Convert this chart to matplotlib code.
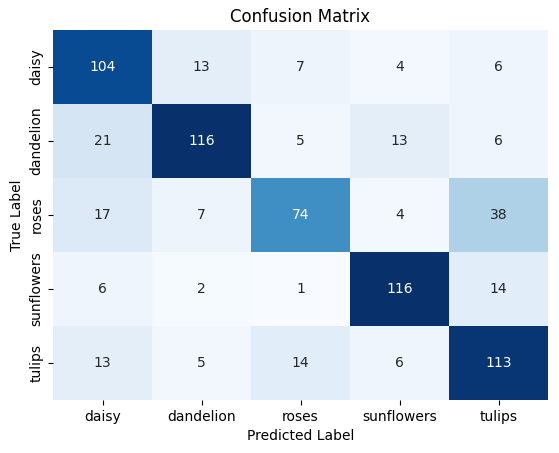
import matplotlib
matplotlib.use("Agg")
import matplotlib.pyplot as plt
import seaborn as sns
import numpy as np

classes = ["daisy", "dandelion", "roses", "sunflowers", "tulips"]
row_daisy = [104, 13, 7, 4, 6]
row_dandelion = [21, 116, 5, 13, 6]
row_roses = [17, 7, 74, 4, 38]
row_sunflowers = [6, 2, 1, 116, 14]
row_tulips = [13, 5, 14, 6, 113]

cm = np.array([row_daisy, row_dandelion, row_roses, row_sunflowers, row_tulips])

fig = plt.figure(figsize=(5.59, 4.53), dpi=100)
ax = fig.add_axes([53 / 559, 1 - 400 / 453, (548 - 53) / 559, (400 - 30) / 453])
sns.heatmap(cm, annot=True, fmt="d", cmap="Blues", cbar=False,
            xticklabels=classes, yticklabels=classes, ax=ax)
ax.set_xlabel("Predicted Label")
ax.set_ylabel("True Label")
ax.set_title("Confusion Matrix")
fig.savefig("out.png", dpi=100)
